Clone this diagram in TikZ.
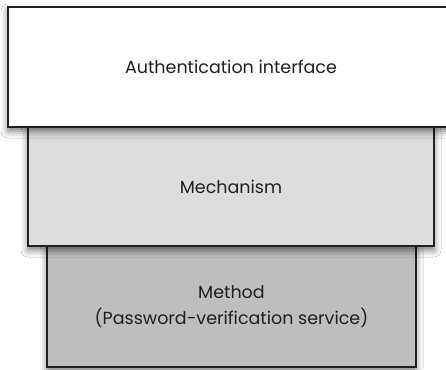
\documentclass[tikz,border=0pt]{standalone}
\usepackage{fontspec}
\setmainfont{Poppins}
\usetikzlibrary{shadows.blur}
\definecolor{edge}{HTML}{231F20}
\definecolor{mechfill}{HTML}{DCDDDF}
\definecolor{methfill}{HTML}{BDBEC0}
\tikzset{
  layer/.style={draw=edge, line width=2pt, rectangle, inner sep=0pt, align=center,
    font=\fontsize{17.5}{26}\selectfont, text=edge,
    blur shadow={shadow xshift=0pt, shadow yshift=-4pt, shadow blur radius=7pt, shadow opacity=55}},
}
\begin{document}
\begin{tikzpicture}[x=1pt,y=-1pt]
\useasboundingbox (0,0) rectangle (446,369);
\clip (0,0) rectangle (446,369);
\fill[white] (0,0) rectangle (446,369);
\node[layer, fill=methfill, minimum width=369pt, minimum height=121pt] (method) at (231.5,306.5)
  {Method\\(Password-verification service)};
\node[layer, fill=mechfill, minimum width=406pt, minimum height=119pt] (mech) at (231,186.5)
  {Mechanism};
\node[layer, fill=white, minimum width=446pt, minimum height=120pt] (auth) at (231,67)
  {Authentication interface};
\end{tikzpicture}
\end{document}
